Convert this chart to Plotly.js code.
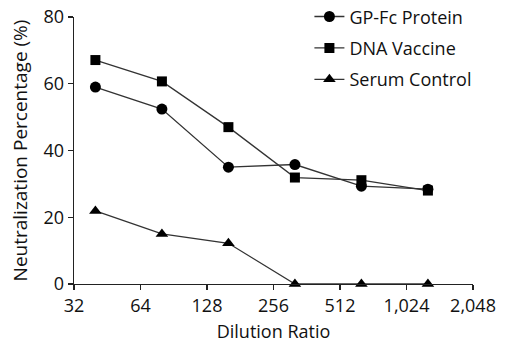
<!DOCTYPE html>
<html><head><meta charset="utf-8">
<script src="https://cdn.plot.ly/plotly-3.0.1.min.js"></script>
<style>html,body{margin:0;padding:0;background:#fff}#c{width:505px;height:343px}</style>
</head><body><div id="c"></div>
<script>
const dilutions = [40, 80, 160, 320, 640, 1280];
const gpFc = [59.0, 52.4, 35.0, 35.8, 29.3, 28.4];
const dnaVaccine = [67.1, 60.7, 47.0, 31.9, 31.1, 28.0];
const serumControl = [21.9, 15.0, 12.2, 0, 0, 0];
const xTickVals = [32, 64, 128, 256, 512, 1024, 2048];
const xTickText = ['32', '64', '128', '256', '512', '1,024', '2,048'];
const yTickVals = [0, 20, 40, 60, 80];

const font = "Open Sans, Liberation Sans, sans-serif";
const lineStyle = {color: '#333', width: 1.3};
function tr(name, y, symbol, size) {
  return {x: dilutions, y: y, name: name, legendgroup: name, type: 'scatter', mode: 'lines+markers',
    line: lineStyle, marker: {symbol: symbol, size: size, color: '#000'}, cliponaxis: false};
}
const data = [
  tr('GP-Fc Protein', gpFc, 'circle', 11),
  tr('DNA Vaccine', dnaVaccine, 'square', 10),
  tr('Serum Control', serumControl, 'triangle-up', 11)
];
const layout = {
  width: 505, height: 343,
  margin: {l: 74, r: 32, t: 17, b: 59, autoexpand: false},
  paper_bgcolor: '#fff', plot_bgcolor: '#fff',
  font: {family: font, size: 18, color: '#111'},
  showlegend: true,
  legend: {x: 0.59, y: 1.07, xanchor: 'left', yanchor: 'top',
    bgcolor: 'rgba(0,0,0,0)', traceorder: 'grouped', tracegroupgap: 5,
    font: {size: 18, family: font, color: '#111'}},
  xaxis: {type: 'log', range: [Math.log10(32), Math.log10(2048)], tickvals: xTickVals, ticktext: xTickText,
    showgrid: false, zeroline: false, showline: true, linecolor: '#222', linewidth: 1.3,
    ticks: 'outside', ticklen: 5, tickcolor: '#222', tickwidth: 1.3,
    tickfont: {size: 18}, title: {text: 'Dilution Ratio', font: {size: 18}, standoff: 13}},
  yaxis: {range: [0, 80], tickvals: yTickVals, showgrid: false, zeroline: false,
    showline: true, linecolor: '#222', linewidth: 1.3, ticks: 'outside', ticklen: 5,
    tickcolor: '#222', tickwidth: 1.3, tickfont: {size: 18},
    title: {text: 'Neutralization Percentage (%)', font: {size: 19}, standoff: 11}}
};
Plotly.newPlot('c', data, layout, {staticPlot: true, displayModeBar: false});
</script></body></html>
